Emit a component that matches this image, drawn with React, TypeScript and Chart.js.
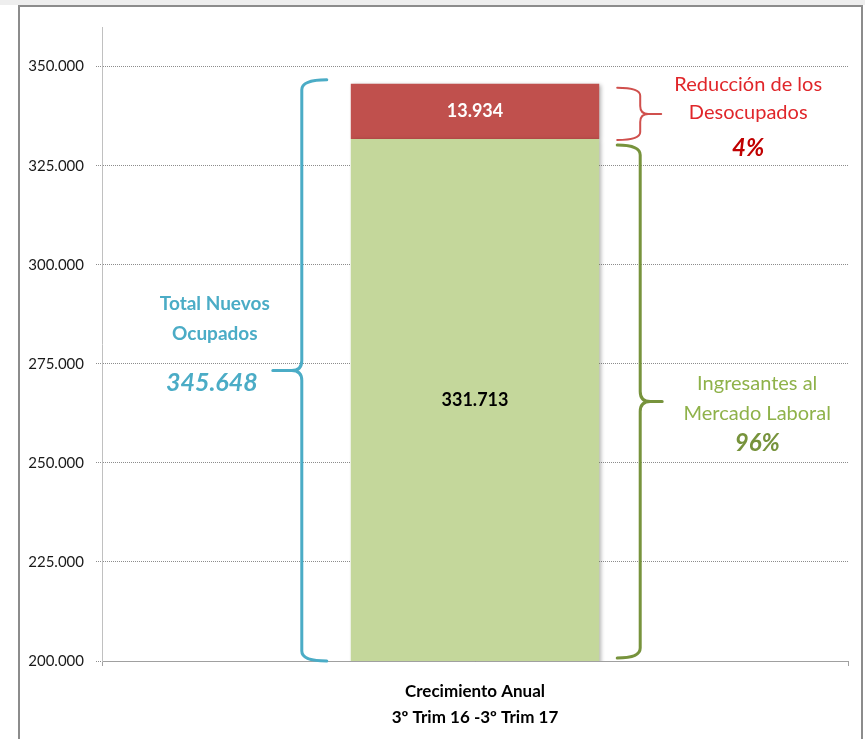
import React, { useEffect, useRef } from "react";
import { Chart, registerables } from "chart.js";

Chart.register(...registerables);

// ---- Data ----
const categories = [["Crecimiento Anual", "3º Trim 16 -3º Trim 17"]];
const ingresantesMercado = [331713];
const reduccionDesocupados = [13934];
const totalNuevosOcupados = [345648];
const yTickValues = [200000, 225000, 250000, 275000, 300000, 325000, 350000];
const yMin = 200000;
const yMax = 360000;

const FONT = "Lato, 'DejaVu Sans', sans-serif";

const fmt = (n: number) =>
  Math.round(n)
    .toString()
    .replace(/\B(?=(\d{3})+(?!\d))/g, ".");

function drawBrace(
  ctx: CanvasRenderingContext2D,
  xv: number,
  y1: number,
  y2: number,
  dir: number,
  endW: number,
  tipW: number,
  r: number,
  color: string,
  lw: number
) {
  const ym = (y1 + y2) / 2;
  ctx.save();
  ctx.strokeStyle = color;
  ctx.lineWidth = lw;
  ctx.lineCap = "round";
  ctx.lineJoin = "round";
  ctx.beginPath();
  ctx.moveTo(xv - dir * endW, y1);
  ctx.quadraticCurveTo(xv, y1, xv, y1 + r);
  ctx.lineTo(xv, ym - r);
  ctx.quadraticCurveTo(xv, ym, xv + dir * r, ym);
  ctx.lineTo(xv + dir * tipW, ym);
  ctx.moveTo(xv + dir * tipW, ym);
  ctx.lineTo(xv + dir * r, ym);
  ctx.quadraticCurveTo(xv, ym, xv, ym + r);
  ctx.lineTo(xv, y2 - r);
  ctx.quadraticCurveTo(xv, y2, xv - dir * endW, y2);
  ctx.stroke();
  ctx.restore();
}

function drawText(
  ctx: CanvasRenderingContext2D,
  text: string,
  x: number,
  y: number,
  font: string,
  color: string
) {
  ctx.save();
  ctx.font = font;
  ctx.fillStyle = color;
  ctx.textAlign = "center";
  ctx.textBaseline = "middle";
  ctx.fillText(text, x, y);
  ctx.restore();
}

const annotPlugin = {
  id: "annot",
  beforeDatasetsDraw(chart: any) {
    const ctx = chart.ctx;
    ctx.save();
    ctx.shadowColor = "rgba(0,0,0,0.3)";
    ctx.shadowBlur = 4;
    ctx.shadowOffsetX = 2;
    ctx.shadowOffsetY = 1;
  },
  afterDatasetsDraw(chart: any) {
    chart.ctx.restore();
  },
  afterDraw(chart: any) {
    const { ctx, chartArea, scales } = chart;
    const y = scales.y;
    const bar = chart.getDatasetMeta(0).data[0];
    const { x: bx, width: bw } = bar.getProps(["x", "width"], true);
    const left = bx - bw / 2;
    const right = bx + bw / 2;
    const green = ingresantesMercado[0];
    const red = reduccionDesocupados[0];
    const yTop = y.getPixelForValue(green + red);
    const yMid = y.getPixelForValue(green);
    const yBot = chartArea.bottom;

    // value labels
    drawText(ctx, fmt(red), bx, (yTop + yMid) / 2, `bold 18px ${FONT}`, "#ffffff");
    drawText(ctx, fmt(green), bx, (yMid + yBot) / 2, `bold 18px ${FONT}`, "#000000");

    // blue brace (total)
    const by1 = yTop - 4;
    const by2 = yBot;
    drawBrace(ctx, left - 49, by1, by2, -1, 25, 29, 10, "#4bacc6", 3);
    const bm = (by1 + by2) / 2;
    const btx = left - 136;
    drawText(ctx, "Total Nuevos", btx, bm - 67, `bold 19px ${FONT}`, "#4bacc6");
    drawText(ctx, "Ocupados", btx, bm - 37, `bold 19px ${FONT}`, "#4bacc6");
    drawText(ctx, fmt(totalNuevosOcupados[0]), btx - 3, bm + 13, `italic bold 25px ${FONT}`, "#4bacc6");

    // red brace
    const ry1 = yTop + 4;
    const ry2 = yMid + 1;
    drawBrace(ctx, right + 41, ry1, ry2, 1, 23, 21, 8, "#d0504d", 2);
    const rm = (ry1 + ry2) / 2;
    const rtx = right + 149;
    const total = green + red;
    drawText(ctx, "Reducción de los", rtx, rm - 29, `20px ${FONT}`, "#e0262a");
    drawText(ctx, "Desocupados", rtx, rm - 1, `20px ${FONT}`, "#e0262a");
    drawText(ctx, `${Math.round((red / total) * 100)}%`, rtx, rm + 34, `italic bold 24px ${FONT}`, "#c00000");

    // green brace
    const gy1 = yMid + 6;
    const gy2 = yBot - 3;
    drawBrace(ctx, right + 41, gy1, gy2, 1, 23, 22, 10, "#77933c", 3);
    const gm = (gy1 + gy2) / 2;
    const gtx = right + 158;
    drawText(ctx, "Ingresantes al", gtx, gm - 18, `20px ${FONT}`, "#8fb24a");
    drawText(ctx, "Mercado Laboral", gtx, gm + 12, `20px ${FONT}`, "#8fb24a");
    drawText(ctx, `${Math.round((green / total) * 100)}%`, gtx, gm + 42, `italic bold 24px ${FONT}`, "#77933c");
  },
};

export default function App() {
  const ref = useRef<HTMLCanvasElement>(null);

  useEffect(() => {
    const chart = new Chart(ref.current as HTMLCanvasElement, {
      type: "bar",
      data: {
        labels: categories as any,
        datasets: [
          {
            label: "Ingresantes al Mercado Laboral",
            data: ingresantesMercado,
            backgroundColor: "#c4d79b",
            barPercentage: 1,
            categoryPercentage: 0.333,
          },
          {
            label: "Reducción de los Desocupados",
            data: reduccionDesocupados,
            backgroundColor: "#c0504d",
            barPercentage: 1,
            categoryPercentage: 0.333,
          },
        ],
      },
      options: {
        animation: false,
        responsive: true,
        maintainAspectRatio: false,
        layout: { padding: { top: 27, right: 17, left: 0, bottom: 0 } },
        plugins: {
          legend: { display: false },
          tooltip: { enabled: false },
        },
        scales: {
          x: {
            stacked: true,
            grid: {
              display: true,
              drawOnChartArea: false,
              drawTicks: true,
              tickLength: 5,
              offset: true,
              color: "#a0a0a0",
            },
            border: { display: true, color: "#a0a0a0", width: 1 },
            ticks: {
              color: "#000000",
              font: { family: FONT, size: 17, weight: "bold", lineHeight: 1.5 },
              padding: 13,
              maxRotation: 0,
              autoSkip: false,
            },
            afterFit: (s: any) => {
              s.height = 78;
            },
          },
          y: {
            stacked: true,
            min: yMin,
            max: yMax,
            afterBuildTicks: (s: any) => {
              s.ticks = yTickValues.map((v) => ({ value: v }));
            },
            grid: {
              color: "#8c8c8c",
              tickLength: 6,
              lineWidth: 1,
              tickBorderDash: [1, 1],
            },
            border: { display: true, color: "#c0c0c0", width: 1, dash: [1, 1] },
            ticks: {
              color: "#1a1a1a",
              font: { family: FONT, size: 15 },
              padding: 12,
              callback: (v: any) => fmt(Number(v)),
            },
            afterFit: (s: any) => {
              s.width = 102;
            },
          },
        },
      } as any,
      plugins: [annotPlugin],
    });
    return () => chart.destroy();
  }, []);

  return (
    <div
      style={{
        position: "absolute",
        left: 0,
        top: 0,
        width: 865,
        height: 739,
        background: "#ffffff",
        overflow: "hidden",
      }}
    >
      <div style={{ position: "absolute", left: 0, top: 0, width: 865, height: 5, background: "#eeeeee" }} />
      <div
        style={{
          position: "absolute",
          left: 18,
          top: 5,
          width: 845,
          height: 760,
          border: "2px solid #8c8c8c",
          boxSizing: "border-box",
          background: "#ffffff",
        }}
      />
      <div style={{ position: "absolute", left: 0, top: 0, width: 865, height: 739 }}>
        <canvas ref={ref} style={{ display: "block" }} />
      </div>
    </div>
  );
}
